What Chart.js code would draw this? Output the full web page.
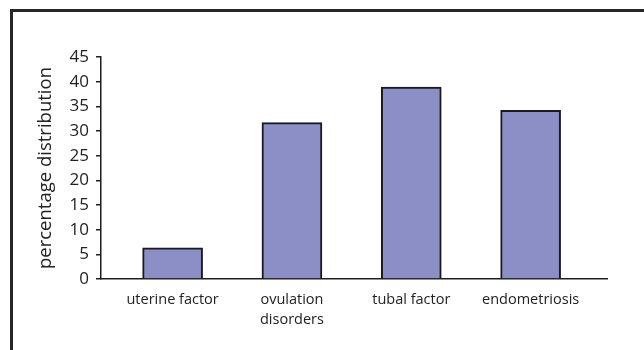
<!DOCTYPE html>
<html>
<head>
<meta charset="utf-8">
<script src="https://cdn.jsdelivr.net/npm/chart.js@4/dist/chart.umd.min.js"></script>
<style>
  html, body { margin: 0; padding: 0; background: #fff; }
  #wrap { position: relative; width: 644px; height: 350px; overflow: hidden; }
  #frame { position: absolute; left: 10px; top: 9px; width: 700px; height: 400px;
           border-left: 3px solid #262626; border-top: 3px solid #262626; box-sizing: border-box; }
  canvas { position: absolute; left: 0; top: 0; }
</style>
</head>
<body>
<div id="wrap">
  <div id="frame"></div>
  <canvas id="c" width="644" height="350"></canvas>
</div>
<script>
const categories = [["uterine factor"], ["ovulation", "disorders"], ["tubal factor"], ["endometriosis"]];
const values = [6.3, 31.7, 38.9, 34.2];
const yTicks = [0, 5, 10, 15, 20, 25, 30, 35, 40, 45];
const yTitle = "percentage distribution";

const points = values.map((v, i) => ({ x: i, y: v }));
const FONT = "'Open Sans', 'Noto Sans', sans-serif";
const INK = '#1e1e1e';

new Chart(document.getElementById('c'), {
  type: 'bar',
  data: {
    datasets: [{
      data: points,
      backgroundColor: '#8b8fc6',
      borderColor: '#1a1a1a',
      borderWidth: 2,
      borderSkipped: 'bottom',
      barThickness: 60
    }]
  },
  options: {
    responsive: false,
    animation: false,
    devicePixelRatio: 1,
    layout: { padding: { left: 35, top: 57, right: 37, bottom: 0 } },
    plugins: { legend: { display: false }, tooltip: { enabled: false } },
    scales: {
      x: {
        type: 'linear',
        min: -0.6,
        max: 3.64,
        offset: false,
        grid: { display: false, drawTicks: false },
        border: { display: true, color: INK, width: 1.5 },
        afterBuildTicks: (s) => { s.ticks = categories.map((c, i) => ({ value: i })); },
        afterFit: (s) => { s.height = 71; },
        ticks: {
          autoSkip: false,
          maxRotation: 0,
          padding: 11,
          color: '#222',
          font: { family: FONT, size: 14.5, lineHeight: 1.38 },
          callback: (v) => categories[v]
        }
      },
      y: {
        min: 0,
        max: 45,
        afterBuildTicks: (s) => { s.ticks = yTicks.map(v => ({ value: v })); },
        afterFit: (s) => { s.width = 66; },
        grid: { display: true, drawOnChartArea: false, drawTicks: true, tickLength: 5, color: INK, lineWidth: 1.5 },
        border: { display: true, color: INK, width: 1.5 },
        ticks: {
          padding: 7,
          color: '#222',
          font: { family: FONT, size: 17 }
        },
        title: {
          display: true,
          text: yTitle,
          color: '#222',
          font: { family: FONT, size: 18.5 },
          padding: { top: 0, bottom: 0 }
        }
      }
    }
  }
});
</script>
</body>
</html>
